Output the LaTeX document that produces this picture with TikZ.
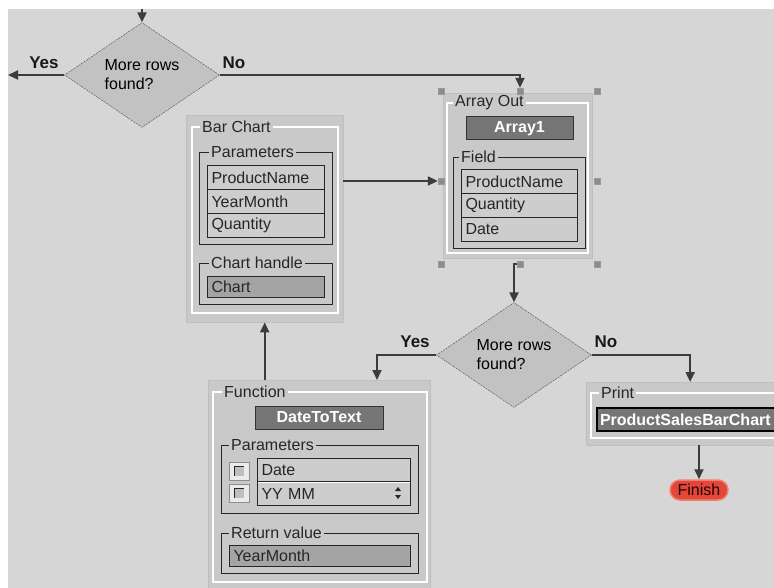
\documentclass[tikz,border=0pt]{standalone}
\usepackage{fontspec}
\setmainfont{Liberation Sans}
\usepackage{xcolor}
\usepackage{tikz}
\usetikzlibrary{positioning,calc,shapes.geometric,arrows.meta}

\definecolor{canvas}{HTML}{D6D6D6}
\definecolor{panelgray}{HTML}{C9C9C9}
\definecolor{rowgray}{HTML}{CDCDCD}
\definecolor{darkrow}{HTML}{A4A4A4}
\definecolor{titlegray}{HTML}{767676}
\definecolor{diamondgray}{HTML}{C2C2C2}
\definecolor{flowgray}{HTML}{3C3C3C}
\definecolor{handlegray}{HTML}{8C8C8C}
\definecolor{finishred}{HTML}{E2473A}
\definecolor{finishglow}{HTML}{F08070}

\newcommand{\uifont}{\fontsize{16}{19}\selectfont}

\begin{document}
\begin{tikzpicture}[
					x=1pt, y=-1pt,
					panel/.style={
						draw=black!25, fill=panelgray,
						anchor=north west, inner sep=0pt
					},
					frame/.style={draw=white, line width=1.5pt},
					grp/.style={
						draw=black!85, line width=1pt,
						anchor=north west, inner sep=0pt
					},
					grplabel/.style={
						fill=panelgray, anchor=west, inner xsep=2pt, inner ysep=0pt,
						font=\uifont, text=black!85
					},
					row/.style={
						draw=black!85, line width=1pt, fill=rowgray,
						anchor=north west, minimum height=24pt,
						inner xsep=4pt, inner ysep=0pt, align=left,
						font=\uifont, text=black!85
					},
					titlebox/.style={
						draw=black!80, line width=1pt, fill=titlegray,
						inner sep=0pt, text=white, font=\uifont\bfseries
					},
					decision/.style={
						diamond, draw=black!70, dash pattern=on 2pt off 1pt,
						fill=diamondgray, minimum width=155pt, minimum height=98pt,
						inner sep=0pt, align=left, font=\uifont
					},
					answer/.style={font=\fontsize{17}{20}\selectfont\bfseries, text=black!90},
					handle/.style={
						fill=handlegray, draw=black!40,
						minimum size=6pt, inner sep=0pt
					},
					checkbox/.style={
						fill=white!92!black, draw=black!45,
						minimum width=20pt, minimum height=18pt, inner sep=0pt,
						path picture={
							\fill[black!25] ($(path picture bounding box.center)+(-5,-5)$) rectangle +(10,10);
							\draw[black!85, line width=1pt] ($(path picture bounding box.center)+(-5,5)$) -- +(0,-10) -- +(10,-10);
						}
					},
					finishnode/.style={
						rounded corners=10pt, fill=finishred, draw=finishglow, line width=1.5pt,
						minimum width=58pt, minimum height=20pt, inner sep=0pt,
						font=\uifont, text=black!85!red
					},
					flow/.style={draw=flowgray, line width=2pt, -{Triangle[length=10pt,width=9pt]}}
					]
					
					% --- NỀN ---
					\useasboundingbox (0,0) rectangle (774,588);
					\fill[white] (0,0) rectangle (774,588);
					\fill[canvas] (8,9) rectangle (774,588);
					
					% --- QUYẾT ĐỊNH 1 ---
					\node[decision] (d1) at (142,75) {More rows\\found?};
					\node[answer] (yes1) at (44,63) {Yes};
					\node[answer] (no1) at (234,63) {No};
					
					% --- BAR CHART ---
					\node[panel, minimum width=157pt, minimum height=207pt] (barchart) at (186,115) {};
					\draw[frame] (192,127) rectangle (338,313);
					\node[grplabel] (bclabel) at (200,127) {Bar Chart};
					\node[grp, minimum width=133pt, minimum height=92pt] (bcparams) at (199,152) {};
					\node[grplabel] (bcparamslabel) at (209,152) {Parameters};
					\node[row, text width=109pt] (bcname) at (207,165) {ProductName};
					\node[row, text width=109pt] (bcmonth) at (207,189) {YearMonth};
					\node[row, text width=109pt] (bcqty) at (207,213) {Quantity};
					\node[grp, minimum width=133pt, minimum height=41pt] (bchandle) at (199,263) {};
					\node[grplabel] (bchandlelabel) at (209,263) {Chart handle};
					\node[row, fill=darkrow, text width=109pt, minimum height=21pt] (bcchart) at (207,276) {Chart};
					
					% --- ARRAY OUT ---
					\node[panel, minimum width=149pt, minimum height=165pt] (arrayout) at (443,93) {};
					\draw[frame] (447,103) rectangle (588,253);
					\node[grplabel] (aolabel) at (453,103) {Array Out};
					\node[titlebox, minimum width=107pt, minimum height=23pt] (arr1) at (519.5,128.5) {Array1};
					\node[grp, minimum width=132pt, minimum height=91pt] (aofield) at (453,157) {};
					\node[grplabel] (aofieldlabel) at (459,157) {Field};
					\node[row, text width=108pt] (aoname) at (461,169) {ProductName};
					\node[row, text width=108pt] (aoqty) at (461,193) {Quantity};
					\node[row, text width=108pt] (aodate) at (461,217) {Date};
					
					% --- QUYẾT ĐỊNH 2 ---
					\node[decision] (d2) at (514,355) {More rows\\found?};
					\node[answer] (yes2) at (415,342) {Yes};
					\node[answer] (no2) at (606,342) {No};
					
					% --- FUNCTION ---
					\node[panel, minimum width=222pt, minimum height=215pt] (function) at (208,380) {};
					\draw[frame] (213,392) rectangle (427,582);
					\node[grplabel] (fnlabel) at (222,392) {Function};
					\node[titlebox, minimum width=128pt, minimum height=23pt] (dtt) at (319,417.5) {DateToText};
					\node[grp, minimum width=197pt, minimum height=68pt] (fnparams) at (221,445) {};
					\node[grplabel] (fnparamslabel) at (229,445) {Parameters};
					\node[checkbox] (cb1) at (239,471) {};
					\node[checkbox] (cb2) at (239,493) {};
					\node[row, text width=145pt, minimum height=23pt] (fndate) at (257,458) {Date};
					\node[row, text width=145pt] (fnfmt) at (257,481) {YY MM};
					\draw[white, line width=1.5pt] ($(fnfmt.north west)+(1,1.5)$) -- ($(fnfmt.north east)+(-1,1.5)$);
					\fill[black!85] (395,491) -- (401,491) -- (398,487) -- cycle;
					\fill[black!85] (395,495) -- (401,495) -- (398,499) -- cycle;
					\node[grp, minimum width=197pt, minimum height=40pt] (fnreturn) at (221,533) {};
					\node[grplabel] (fnreturnlabel) at (229,533) {Return value};
					\node[row, fill=darkrow, text width=173pt, minimum height=21pt] (fnmonth) at (229,545) {YearMonth};
					
					% --- PRINT + FINISH ---
					\node[panel, minimum width=208pt, minimum height=63pt] (print) at (586,382) {};
					\draw[frame] (591,393) rectangle (790,438);
					\node[grplabel] (prlabel) at (599,393) {Print};
					\node[titlebox, draw=black, line width=2pt, anchor=north west, text width=190pt, minimum height=23pt, inner xsep=3pt, align=left] (psbc) at (596,407) {ProductSalesBarChart};
					\node[finishnode] (finish) at (699,490) {Finish};
					
					% --- MŨI TÊN ---
					\coordinate (entry) at (142,9);
					\coordinate (yesout) at (8,75);
					\coordinate (fnin) at (377,380);
					\node[handle] (hNW) at (441,91) {};
					\node[handle] (hN) at (520,91) {};
					\node[handle] (hNE) at (597,91) {};
					\node[handle] (hW) at (441,181) {};
					\node[handle] (hE) at (597,181) {};
					\node[handle] (hSW) at (441,264) {};
					\node[handle] (hS) at (520,264) {};
					\node[handle] (hSE) at (597,264) {};
					\draw[flow] (entry) -- (d1.north);
					\draw[flow] (d1.west) -- (d1.west -| yesout);
					\draw[flow] (d1.east) -| (hN.north);
					\draw[flow] (barchart.east |- hW) -- (hW.west);
					\draw[flow] (hS) -| (d2.north);
					\draw[flow] (d2.west) -| (fnin);
					\draw[flow] (d2.east) -| (print.north);
					\draw[flow] (barchart.south |- function.north) -- (barchart.south);
					\draw[flow] (print.south -| finish.north) -- (finish.north);
					
				\end{tikzpicture}
\end{document}
